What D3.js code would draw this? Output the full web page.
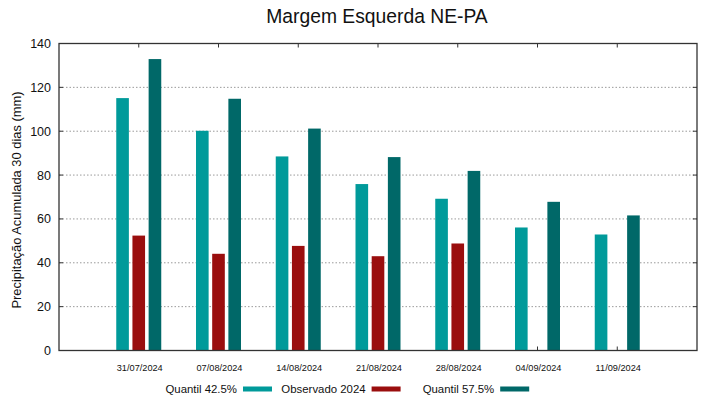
<!DOCTYPE html>
<html>
<head>
<meta charset="utf-8">
<script src="https://cdn.jsdelivr.net/npm/d3@7"></script>
<style>
  body { margin: 0; background: #fff; }
  svg { display: block; font-family: "Liberation Sans", Arial, sans-serif; }
</style>
</head>
<body>
<svg id="chart" width="719" height="399"></svg>
<script>
// data
var dates = ["31/07/2024", "07/08/2024", "14/08/2024", "21/08/2024", "28/08/2024", "04/09/2024", "11/09/2024"];
var quantil425 = [115.1, 100.2, 88.5, 75.9, 69.2, 56.1, 52.9];
var observado = [52.4, 44.1, 47.7, 43.0, 48.8, null, null];
var quantil575 = [132.9, 114.8, 101.2, 88.2, 81.9, 67.8, 61.6];
var seriesNames = ["Quantil 42.5%", "Observado 2024", "Quantil 57.5%"];
var yTicks = [0, 20, 40, 60, 80, 100, 120, 140];

(function() {
	var colors = ["#009a9a", "#9a0e0e", "#006868"];
	var series = [quantil425, observado, quantil575];

	var svg = d3.select("#chart");
	var pLeft = 59, pRight = 697, pTop = 43.5, pBottom = 350.5;

	var x = d3.scalePoint().domain(dates).range([pLeft, pRight]).padding(1);
	var xs = d3.scaleBand().domain(d3.range(series.length)).range([-22.5, 22.5]).paddingInner(0.22);
	var y = d3.scaleLinear().domain([0, 140]).range([pBottom, pTop]);

	// grid
	svg.append("g")
		.selectAll("line")
		.data(yTicks.filter(function(d) { return d > 0 && d < 140; }))
		.join("line")
		.attr("x1", pLeft).attr("x2", pRight)
		.attr("y1", function(d) { return y(d); })
		.attr("y2", function(d) { return y(d); })
		.attr("stroke", "#9a9a9a")
		.attr("stroke-width", 1)
		.attr("stroke-dasharray", "1.5,2");

	// ticks on all four sides (mirrored)
	var tickG = svg.append("g").attr("stroke", "#333").attr("stroke-width", 1);
	yTicks.forEach(function(d) {
		tickG.append("line").attr("x1", pLeft).attr("x2", pLeft + 4).attr("y1", y(d)).attr("y2", y(d));
		tickG.append("line").attr("x1", pRight - 4).attr("x2", pRight).attr("y1", y(d)).attr("y2", y(d));
	});
	dates.forEach(function(d) {
		tickG.append("line").attr("x1", x(d)).attr("x2", x(d)).attr("y1", pTop).attr("y2", pTop + 4);
		tickG.append("line").attr("x1", x(d)).attr("x2", x(d)).attr("y1", pBottom - 4).attr("y2", pBottom);
	});

	// bars
	series.forEach(function(vals, s) {
		svg.append("g")
			.selectAll("rect")
			.data(vals.map(function(v, i) { return { date: dates[i], value: v }; }).filter(function(d) { return d.value != null; }))
			.join("rect")
			.attr("x", function(d) { return x(d.date) + xs(s); })
			.attr("width", xs.bandwidth())
			.attr("y", function(d) { return y(d.value); })
			.attr("height", function(d) { return y(0) - y(d.value); })
			.attr("fill", colors[s]);
	});

	// frame
	svg.append("rect")
		.attr("x", pLeft).attr("y", pTop)
		.attr("width", pRight - pLeft).attr("height", pBottom - pTop)
		.attr("fill", "none")
		.attr("stroke", "#333")
		.attr("stroke-width", 1.3);

	// y tick labels
	svg.append("g")
		.selectAll("text")
		.data(yTicks)
		.join("text")
		.attr("x", pLeft - 8)
		.attr("y", function(d) { return y(d); })
		.attr("dy", "0.36em")
		.attr("text-anchor", "end")
		.attr("font-size", 12.5)
		.attr("fill", "#111")
		.text(function(d) { return d; });

	// x tick labels
	svg.append("g")
		.selectAll("text")
		.data(dates)
		.join("text")
		.attr("x", function(d) { return x(d) + 1; })
		.attr("y", 371)
		.attr("text-anchor", "middle")
		.attr("font-size", 9.2)
		.attr("fill", "#111")
		.text(function(d) { return d; });

	// title
	svg.append("text")
		.attr("x", 377)
		.attr("y", 22.5)
		.attr("text-anchor", "middle")
		.attr("font-size", 19.3)
		.attr("fill", "#111")
		.text("Margem Esquerda NE-PA");

	// y axis title
	svg.append("text")
		.attr("transform", "translate(21,200) rotate(-90)")
		.attr("text-anchor", "middle")
		.attr("font-size", 12.9)
		.attr("fill", "#111")
		.text("Precipitação Acumulada 30 dias (mm)");

	// legend
	var legend = svg.append("g")
		.selectAll("g")
		.data(seriesNames)
		.join("g")
		.attr("transform", function(d, i) { return "translate(" + (243 + i * 128.6) + ",389)"; });
	legend.append("rect")
		.attr("x", 0).attr("y", -2.5)
		.attr("width", 29).attr("height", 5)
		.attr("fill", function(d, i) { return colors[i]; });
	legend.append("text")
		.attr("x", -6)
		.attr("y", 4)
		.attr("text-anchor", "end")
		.attr("font-size", 11.4)
		.attr("fill", "#111")
		.text(function(d) { return d; });
})();
</script>
</body>
</html>
